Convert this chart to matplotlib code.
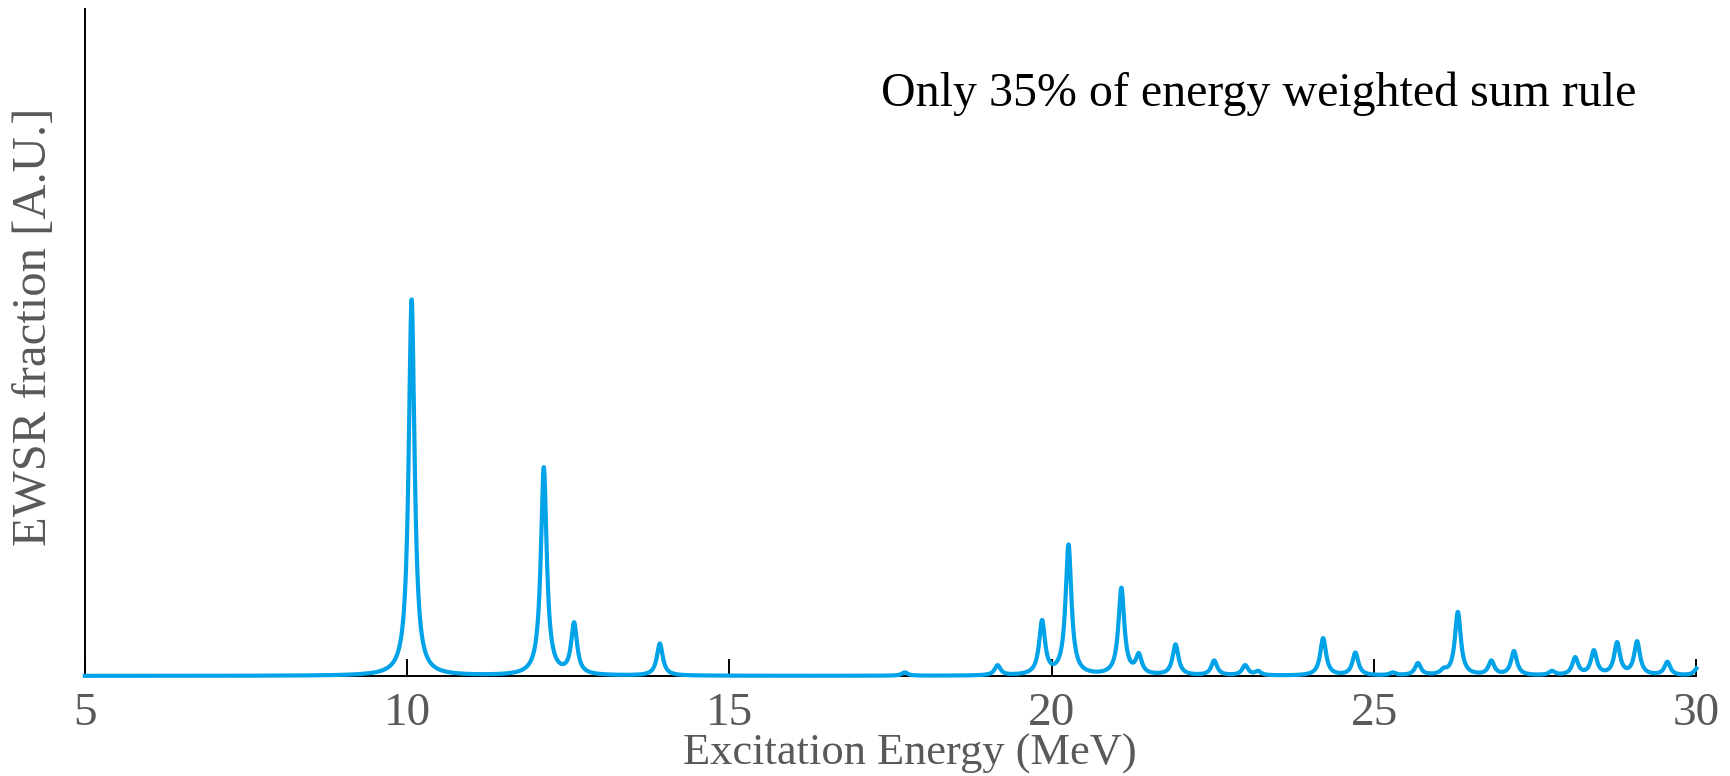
import numpy as np
import matplotlib
matplotlib.use("Agg")
import matplotlib.pyplot as plt

# Discrete transition energies (MeV) and their peak strengths (A.U.)
peak_energy = [10.07, 12.12, 12.59, 13.92, 17.72, 19.16, 19.85, 20.26, 21.08,
               21.35, 21.92, 22.52, 23.00, 23.20, 24.21, 24.71, 25.29, 25.68,
               26.08, 26.30, 26.82, 27.17, 27.76, 28.12, 28.41, 28.77, 29.08,
               29.55, 30.02]
peak_strength = [0.565, 0.312, 0.076, 0.048, 0.005, 0.015, 0.080, 0.195, 0.130,
                 0.028, 0.046, 0.022, 0.015, 0.006, 0.056, 0.034, 0.004, 0.018,
                 0.006, 0.095, 0.021, 0.036, 0.006, 0.026, 0.036, 0.048, 0.050,
                 0.020, 0.012]
peak_hwhm = 0.055

x_ticks = [5, 10, 15, 20, 25, 30]
x_label = "Excitation Energy (MeV)"
y_label = "EWSR fraction [A.U.]"
note = "Only 35% of energy weighted sum rule"

# Lorentzian folding of the discrete strengths
energy = np.linspace(5, 30, 6000)
response = np.zeros_like(energy)
for e0, s in zip(peak_energy, peak_strength):
    response += s / (1.0 + ((energy - e0) / peak_hwhm) ** 2)

plt.rcParams["font.family"] = ["Liberation Serif", "DejaVu Serif"]

fig = plt.figure(figsize=(17.31, 7.76), dpi=100)
ax = fig.add_axes([0.049, 0.129, 0.931, 0.859])

ax.plot(energy, response, color="#00A2E8", lw=3.0, zorder=5, clip_on=False)

ax.set_xlim(5, 30)
ax.set_ylim(0, 1.0)
ax.set_xticks(x_ticks)
ax.set_yticks([])

for side in ("top", "right"):
    ax.spines[side].set_visible(False)
for side in ("left", "bottom"):
    ax.spines[side].set_linewidth(1.4)
    ax.spines[side].set_color("black")

ax.tick_params(axis="x", direction="in", length=12, width=1.4, pad=12,
               labelsize=34, labelcolor="#595959", color="black")

ax.set_xlabel(x_label, fontsize=32, color="#595959")
ax.xaxis.set_label_coords(0.512, -0.087)
ax.set_ylabel(y_label, fontsize=35, color="#595959")
ax.yaxis.set_label_coords(-0.018, 0.523)

ax.text(0.963, 0.873, note, transform=ax.transAxes, ha="right", va="center",
        fontsize=34.5, color="black")

fig.savefig("out.png", dpi=100)
